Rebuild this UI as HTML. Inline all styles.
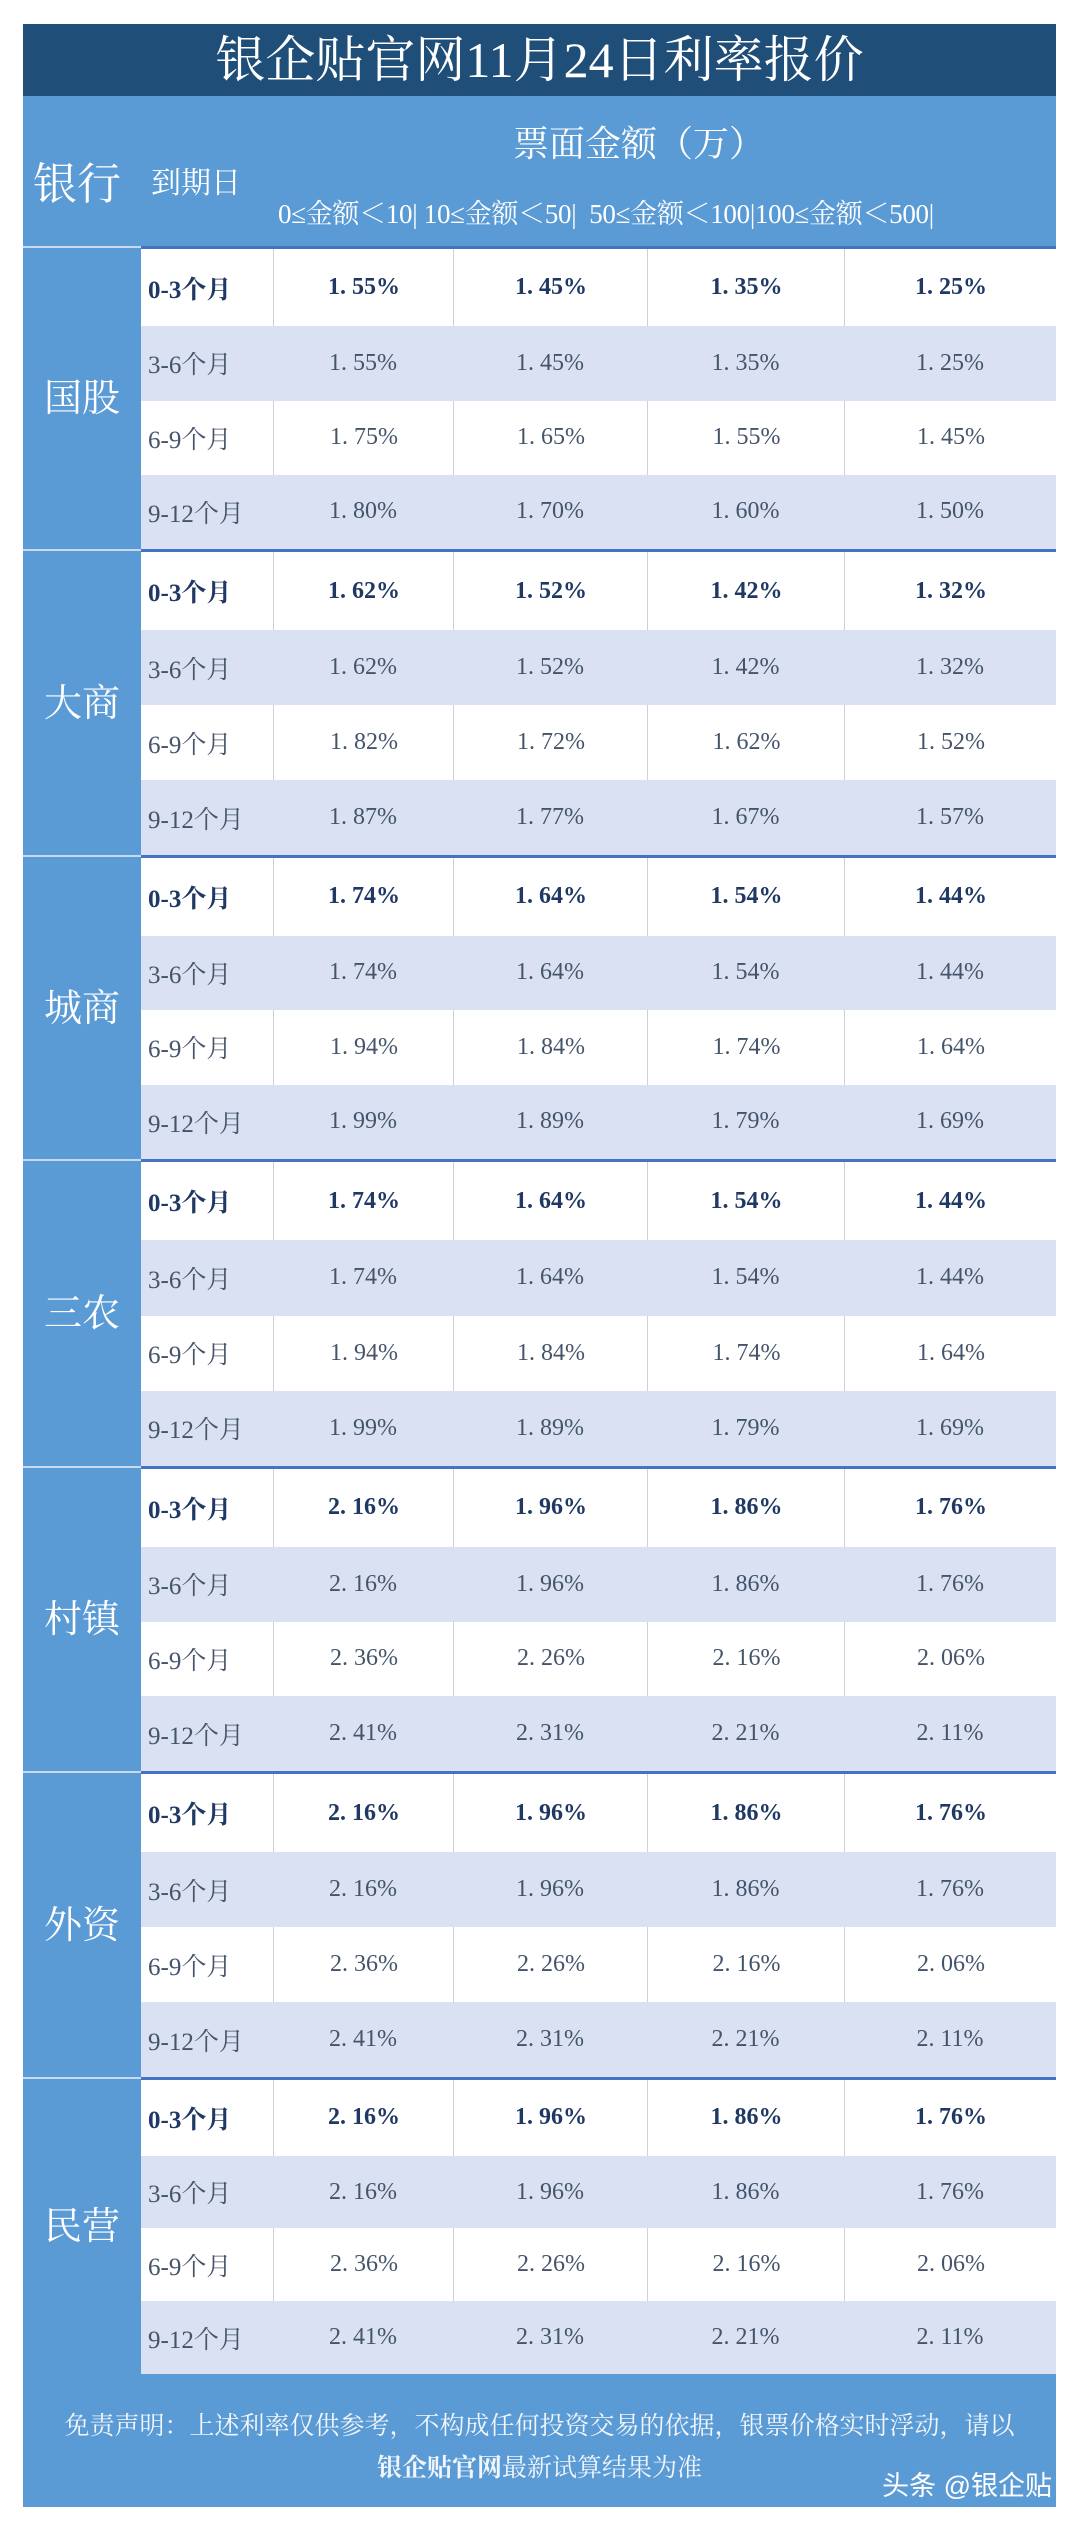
<!DOCTYPE html>
<html><head><meta charset="utf-8"><style>
body{margin:0;width:1080px;height:2530px;background:#fff;position:relative;overflow:hidden;font-family:"Liberation Serif","Noto Serif CJK SC",serif}
.a{position:absolute}
.title{left:23px;top:24px;width:1033px;height:72px;background:#1f4e79;color:#fff;font-size:50px;text-align:center;line-height:72px}
.hdr{left:23px;top:96px;width:1033px;height:150px;background:#5b9bd5;color:#fff}
.bank{left:23px;width:118px;background:#5b9bd5;color:#fff;font-size:38px;text-align:center}
.row{left:141px;width:915px;color:#44546a;font-size:24px}
.row span{position:absolute;top:0;height:100%;display:flex;align-items:center;justify-content:center}
.b{font-weight:bold;color:#1f3864}
.foot{left:23px;top:2374px;width:1033px;height:133px;background:#5b9bd5;color:#f2f6fb;font-size:25px;text-align:center}
</style></head><body>
<div class="a title">银企贴官网11月24日利率报价</div>
<div class="a hdr">
<div class="a" style="left:10px;top:52px;font-size:44px">银行</div>
<div class="a" style="left:128px;top:62px;font-size:30px">到期日</div>
<div class="a" style="left:490px;top:20px;font-size:36px">票面金额（万）</div>
<div class="a" style="left:255px;top:96px;font-size:27px;white-space:nowrap;letter-spacing:-0.3px">0≤金额＜10|&nbsp;10≤金额＜50|&nbsp;&nbsp;50≤金额＜100|100≤金额＜500|</div>
</div>
<div id="t"></div>
<div class="a foot"><div style="margin-top:32px">免责声明：上述利率仅供参考，不构成任何投资交易的依据，银票价格实时浮动，请以</div><div style="margin-top:6px"><b>银企贴官网</b>最新试算结果为准</div>
<div class="a" style="right:4px;bottom:4px;font-family:'Liberation Sans','Noto Sans CJK SC',sans-serif;color:#fff;font-size:27px">头条 @银企贴</div></div>
<script>
var banks=["国股","大商","城商","三农","村镇","外资","民营"];
var vals=[
[[1.55,1.45,1.35,1.25],[1.55,1.45,1.35,1.25],[1.75,1.65,1.55,1.45],[1.80,1.70,1.60,1.50]],
[[1.62,1.52,1.42,1.32],[1.62,1.52,1.42,1.32],[1.82,1.72,1.62,1.52],[1.87,1.77,1.67,1.57]],
[[1.74,1.64,1.54,1.44],[1.74,1.64,1.54,1.44],[1.94,1.84,1.74,1.64],[1.99,1.89,1.79,1.69]],
[[1.74,1.64,1.54,1.44],[1.74,1.64,1.54,1.44],[1.94,1.84,1.74,1.64],[1.99,1.89,1.79,1.69]],
[[2.16,1.96,1.86,1.76],[2.16,1.96,1.86,1.76],[2.36,2.26,2.16,2.06],[2.41,2.31,2.21,2.11]],
[[2.16,1.96,1.86,1.76],[2.16,1.96,1.86,1.76],[2.36,2.26,2.16,2.06],[2.41,2.31,2.21,2.11]],
[[2.16,1.96,1.86,1.76],[2.16,1.96,1.86,1.76],[2.36,2.26,2.16,2.06],[2.41,2.31,2.21,2.11]]];
var tops=[246,549,855,1159,1466,1771,2077],ends=[549,855,1159,1466,1771,2077,2374];
var labels=["0-3个月","3-6个月","6-9个月","9-12个月"];
var cols=[[0,132],[132,312],[312,506],[506,703],[703,915]];
var h="";
for(var g=0;g<7;g++){
 var T=tops[g],H=ends[g]-T;
 var rh=[H*0.265,H*0.245,H*0.245];rh.push(H-rh[0]-rh[1]-rh[2]);
 h+='<div class="a bank" style="top:'+T+'px;height:'+H+'px;line-height:'+H+'px;border-top:2px solid #c9daf0;box-sizing:border-box">'+banks[g]+'</div>';
 var y=T;
 for(var r=0;r<4;r++){
  var bg=(r%2)?"#d9e1f2":"#fff";
  var st='top:'+y+'px;height:'+rh[r]+'px;background:'+bg+';';
  if(r==0)st+='border-top:3px solid #4472c4;box-sizing:border-box;';
  h+='<div class="a row'+(r==0?' b':'')+'" style="'+st+'">';
  for(var c=0;c<5;c++){
   var txt=c==0?labels[r]:vals[g][r][c-1].toFixed(2).replace('.','. ')+'%';
   var bl=(r%2==0&&c>0)?'border-left:1px solid #d0d0d0;':'';
   h+='<span style="left:'+cols[c][0]+'px;width:'+(cols[c][1]-cols[c][0])+'px;'+bl+(c==0?'justify-content:flex-start;padding-left:7px;box-sizing:border-box;font-size:25px;':'')+'">'+txt+'</span>';
  }
  h+='</div>';y+=rh[r];
 }
}
document.getElementById('t').innerHTML=h;
</script>
</body></html>
